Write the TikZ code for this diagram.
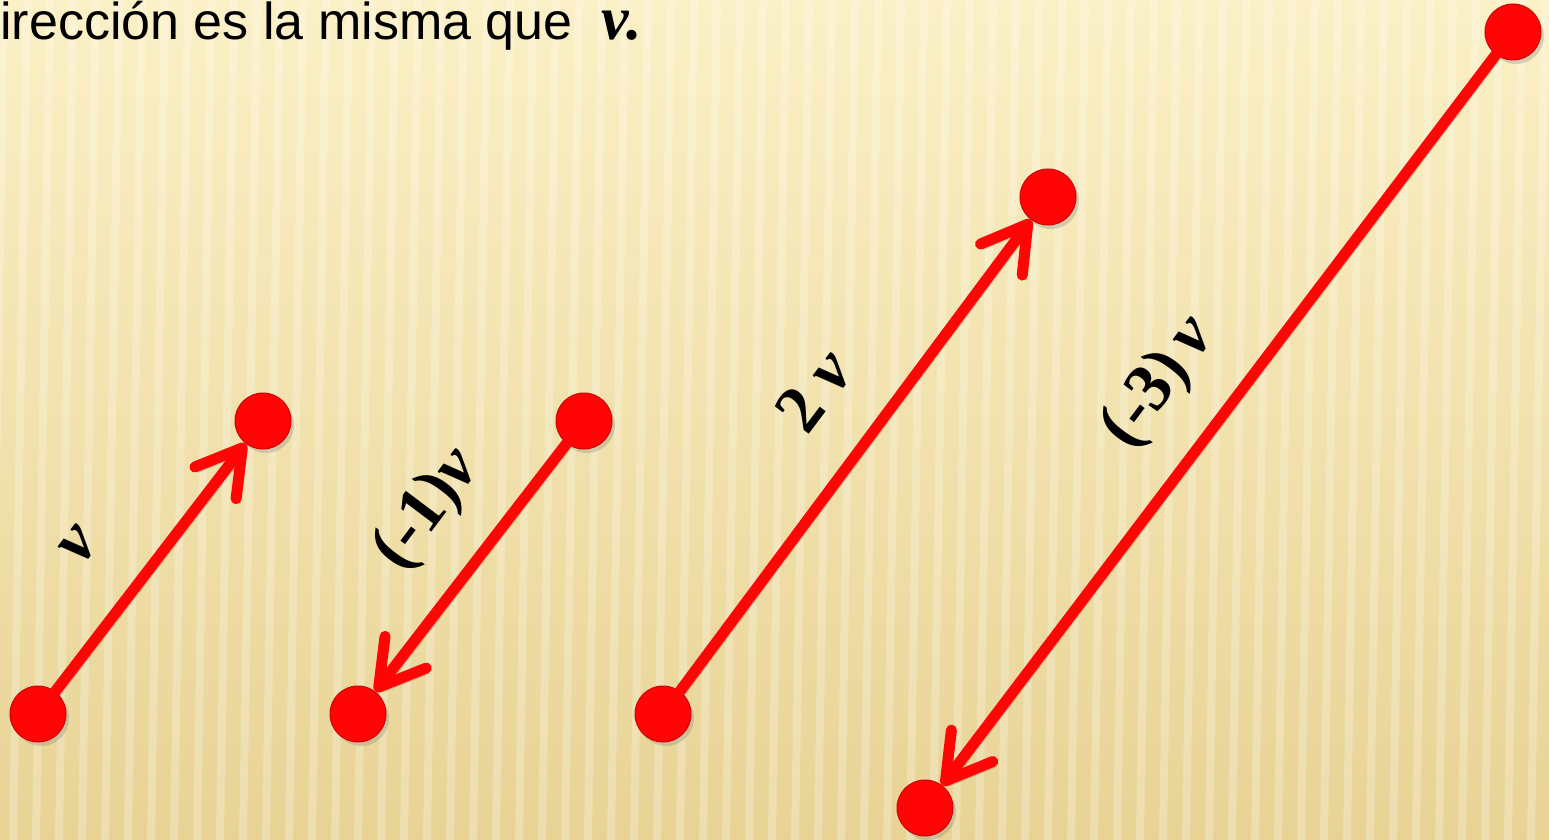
\documentclass[tikz,border=0pt]{standalone}
\usepackage{fontspec}
\setmainfont{Liberation Serif}
\newfontfamily\headfont{Liberation Sans}
\usetikzlibrary{arrows.meta,shadows}

\definecolor{vred}{HTML}{FF0505}
\definecolor{bgtop}{HTML}{FBF0C6}
\definecolor{bgbot}{HTML}{E8D395}

\tikzset{
  dot/.style={circle, fill=vred, draw=vred!80!black, line width=0.5pt,
    minimum size=28pt, inner sep=0pt,
    drop shadow={opacity=0.3, shadow xshift=1.5pt, shadow yshift=-2pt}},
  vec/.style={draw=vred, line width=5.5pt, line cap=round,
    -{Straight Barb[length=22pt, width=26pt, round]},
    preaction={draw=black, opacity=0.18,
      transform canvas={xshift=2pt, yshift=-2.5pt}}},
  lbl/.style={font=\fontsize{34}{34}\selectfont\bfseries, rotate=53, inner sep=0pt},
}

\begin{document}
\begin{tikzpicture}[x=0.5pt, y=-0.5pt]
\useasboundingbox (0,0) rectangle (1549,840);

% background
\fill[top color=bgtop, bottom color=bgbot] (0,0) rectangle (1549,840);
\foreach \s in {0,23,...,1560}
  \fill[white, opacity=0.25] (\s,0) -- ++(8,0) -- ++(-14,840) -- ++(-8,0) -- cycle;

% heading text
\node[anchor=base west, inner sep=0pt, font=\headfont\fontsize{26}{26}\selectfont]
  (head) at (0,40) {irección es la misma que\ \ {\rmfamily\fontsize{31}{31}\selectfont\bfseries\itshape v.}};

% dots
\node[dot] (v0) at (38,714) {};
\node[dot] (v1) at (263,421) {};
\node[dot] (n0) at (584,421) {};
\node[dot] (n1) at (358,714) {};
\node[dot] (d0) at (663,714) {};
\node[dot] (d1) at (1048,197) {};
\node[dot] (t0) at (1513,32) {};
\node[dot] (t1) at (925,808) {};

% vectors
\draw[vec] (v0) -- (v1);
\draw[vec] (n0) -- (n1);
\draw[vec] (d0) -- (d1);
\draw[vec] (t0) -- (t1);

% labels
\node[lbl] (lv) at (80,545) {\textit{v}};
\node[lbl] (ln) at (428,510) {(-1)\textit{v}};
\node[lbl] (ld) at (814,390) {2 \textit{v}};
\node[lbl] (lt) at (1160,383) {(-3)\,\textit{v}};

\end{tikzpicture}
\end{document}
